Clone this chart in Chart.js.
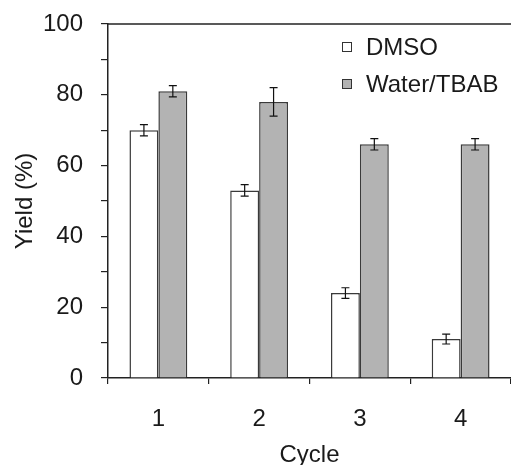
<!DOCTYPE html>
<html>
<head>
<meta charset="utf-8">
<script src="https://cdn.jsdelivr.net/npm/chart.js@4.4.1/dist/chart.umd.min.js"></script>
<style>
  html, body { margin: 0; padding: 0; background: #fff; }
  #wrap { width: 511px; height: 465px; }
</style>
</head>
<body>
<div id="wrap"><canvas id="myChart" width="511" height="465"></canvas></div>
<script>
    // data
    const cycles = ['1', '2', '3', '4'];
    const dmsoYield = [70, 53, 24, 11];
    const dmsoErr = [1.6, 1.6, 1.5, 1.4];
    const waterYield = [81, 78, 66, 66];
    const waterErr = [1.6, 4, 1.6, 1.6];

    const fontFamily = '"Liberation Sans", Arial, sans-serif';
    const fontSize = 24;
    const ink = '#1a1a1a';

    // error bars, legend and top frame line
    const extrasPlugin = {
        id: 'extras',
        afterDatasetsDraw(chart) {
            const ctx = chart.ctx;
            const yScale = chart.scales.y;
            const area = chart.chartArea;
            ctx.save();
            ctx.strokeStyle = '#111';
            ctx.lineWidth = 1.2;
            chart.data.datasets.forEach((ds, i) => {
                const meta = chart.getDatasetMeta(i);
                meta.data.forEach((bar, j) => {
                    const v = ds.data[j];
                    const e = ds.errors[j];
                    const yTop = yScale.getPixelForValue(v + e);
                    const yBot = yScale.getPixelForValue(v - e);
                    const x = bar.x;
                    ctx.beginPath();
                    ctx.moveTo(x, yTop); ctx.lineTo(x, yBot);
                    ctx.moveTo(x - 4, yTop); ctx.lineTo(x + 4, yTop);
                    ctx.moveTo(x - 4, yBot); ctx.lineTo(x + 4, yBot);
                    ctx.stroke();
                });
            });

            // top frame line
            ctx.strokeStyle = '#222';
            ctx.lineWidth = 1.5;
            ctx.beginPath();
            ctx.moveTo(area.left, area.top);
            ctx.lineTo(chart.width, area.top);
            ctx.stroke();

            // legend
            ctx.font = fontSize + 'px ' + fontFamily;
            ctx.textBaseline = 'middle';
            ctx.textAlign = 'left';
            const rows = [47, 84];
            chart.data.datasets.forEach((ds, i) => {
                const cy = rows[i];
                ctx.fillStyle = ds.backgroundColor;
                ctx.fillRect(342.5, cy - 4.5, 9, 9);
                ctx.strokeStyle = '#333';
                ctx.lineWidth = 1;
                ctx.strokeRect(342.5, cy - 4.5, 9, 9);
                ctx.fillStyle = ink;
                ctx.fillText(ds.label, 366, cy + 1);
            });
            ctx.restore();
        }
    };

    const data = {
        labels: cycles,
        datasets: [{
            label: 'DMSO',
            data: dmsoYield,
            errors: dmsoErr,
            backgroundColor: '#ffffff',
            borderColor: '#3a3a3a',
            borderWidth: 1.5
        }, {
            label: 'Water/TBAB',
            data: waterYield,
            errors: waterErr,
            backgroundColor: '#b3b3b3',
            borderColor: '#3a3a3a',
            borderWidth: 1.5
        }]
    };

    const config = {
        type: 'bar',
        data: data,
        options: {
            responsive: false,
            animation: false,
            devicePixelRatio: 1,
            layout: { padding: { top: 24, right: -2, left: 0, bottom: 0 } },
            categoryPercentage: 0.574,
            barPercentage: 1,
            plugins: {
                legend: { display: false },
                tooltip: { enabled: false }
            },
            scales: {
                x: {
                    grid: {
                        offset: true,
                        drawOnChartArea: false,
                        drawTicks: true,
                        tickLength: 6,
                        color: '#222',
                        lineWidth: 1.2
                    },
                    border: { color: '#222', width: 1.5 },
                    ticks: {
                        color: ink,
                        padding: 21,
                        font: { family: fontFamily, size: fontSize }
                    },
                    title: {
                        display: true,
                        text: 'Cycle',
                        color: ink,
                        padding: { top: 0, bottom: -5 },
                        font: { family: fontFamily, size: fontSize }
                    },
                    afterFit(scale) {
                        scale.height = 87;
                        scale.paddingLeft = 0;
                        scale.paddingRight = 0;
                    }
                },
                y: {
                    min: 0,
                    max: 100,
                    grid: {
                        drawOnChartArea: false,
                        drawTicks: true,
                        tickLength: 7,
                        color: '#222',
                        lineWidth: 1.2
                    },
                    border: { color: '#222', width: 1.5 },
                    ticks: {
                        stepSize: 10,
                        color: ink,
                        padding: 18,
                        font: { family: fontFamily, size: fontSize },
                        callback: (v) => (v % 20 === 0 ? v : '')
                    },
                    title: {
                        display: true,
                        text: 'Yield (%)',
                        color: ink,
                        padding: { top: 11, bottom: 0 },
                        font: { family: fontFamily, size: fontSize }
                    },
                    afterFit(scale) {
                        scale.width = 108;
                        scale.paddingTop = 0;
                        scale.paddingBottom = 0;
                    }
                }
            }
        },
        plugins: [extrasPlugin]
    };

    const myChart = new Chart(
        document.getElementById('myChart'),
        config
    );
</script>
</body>
</html>
